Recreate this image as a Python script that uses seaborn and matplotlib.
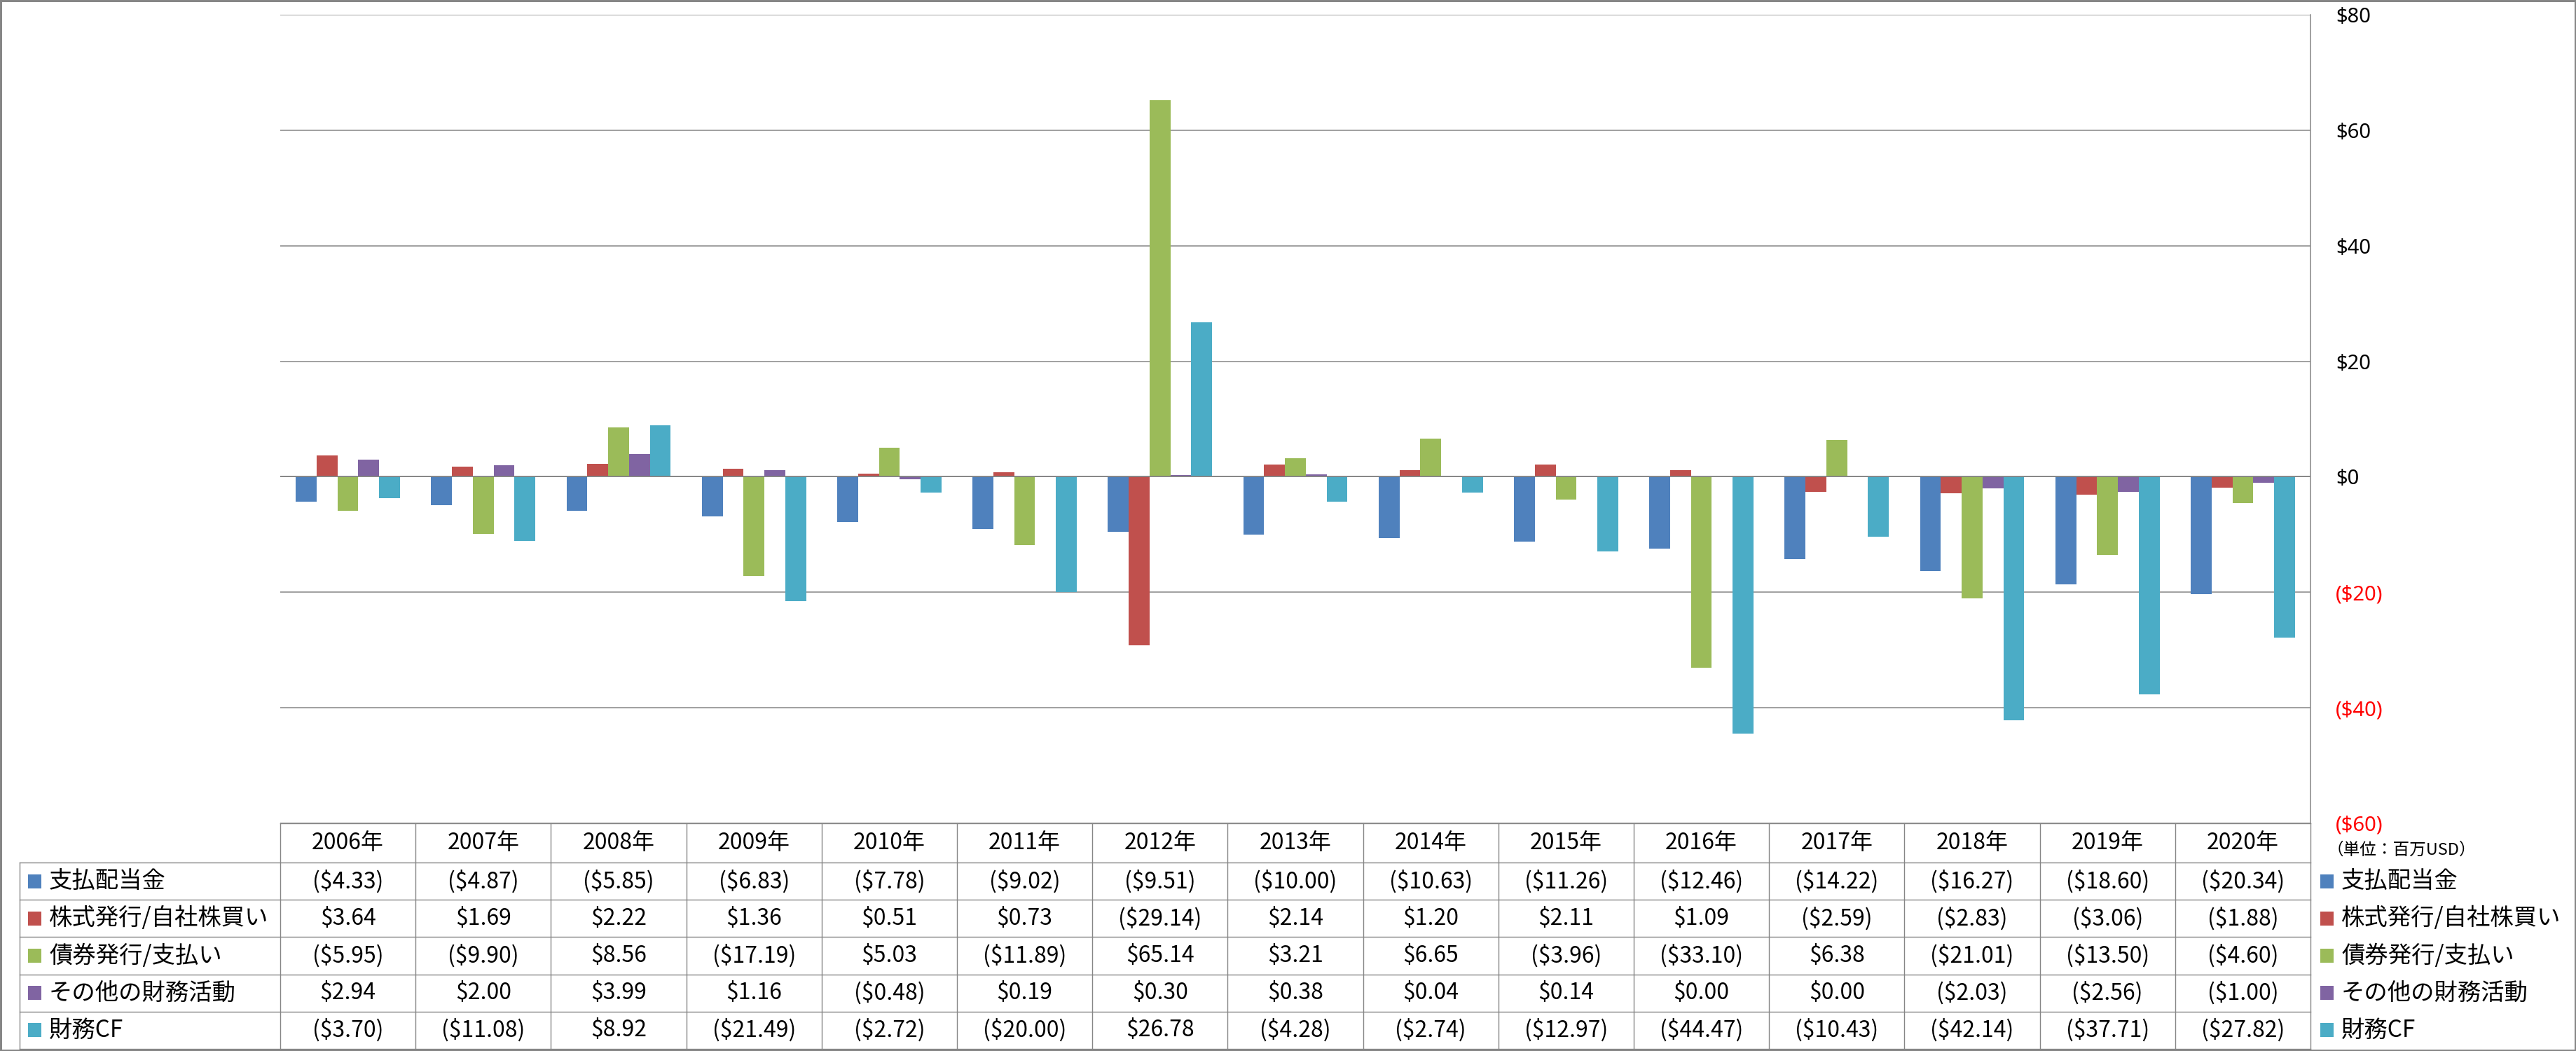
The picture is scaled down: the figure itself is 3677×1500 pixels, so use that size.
import matplotlib
matplotlib.use("Agg")
import matplotlib.pyplot as plt
from matplotlib.patches import Rectangle
import seaborn as sns
import pandas as pd
import numpy as np

# ---------------- data ----------------
years = ['2006年', '2007年', '2008年', '2009年', '2010年', '2011年', '2012年', '2013年',
         '2014年', '2015年', '2016年', '2017年', '2018年', '2019年', '2020年']
series = ['支払配当金', '株式発行/自社株買い', '債券発行/支払い', 'その他の財務活動', '財務CF']
dividends = [-4.33, -4.87, -5.85, -6.83, -7.78, -9.02, -9.51, -10.00, -10.63, -11.26, -12.46, -14.22, -16.27, -18.60, -20.34]
stock = [3.64, 1.69, 2.22, 1.36, 0.51, 0.73, -29.14, 2.14, 1.20, 2.11, 1.09, -2.59, -2.83, -3.06, -1.88]
bonds = [-5.95, -9.90, 8.56, -17.19, 5.03, -11.89, 65.14, 3.21, 6.65, -3.96, -33.10, 6.38, -21.01, -13.50, -4.60]
other = [2.94, 2.00, 3.99, 1.16, -0.48, 0.19, 0.30, 0.38, 0.04, 0.14, 0.00, 0.00, -2.03, -2.56, -1.00]
fcf = [-3.70, -11.08, 8.92, -21.49, -2.72, -20.00, 26.78, -4.28, -2.74, -12.97, -44.47, -10.43, -42.14, -37.71, -27.82]
yticks = [-60, -40, -20, 0, 20, 40, 60, 80]
unit_label = '（単位：百万USD）'
colors = ['#4F81BD', '#C0504D', '#9BBB59', '#8064A2', '#4BACC6']

values = [dividends, stock, bonds, other, fcf]
df = pd.DataFrame([
    {'year': y, 'series': s, 'value': v}
    for s, vals in zip(series, values)
    for y, v in zip(years, vals)
])

# ---------------- layout ----------------
W, H = 3677, 1500
DPI = 100
plt.rcParams['font.family'] = ['Noto Sans CJK JP', 'DejaVu Sans']
GRID = '#868686'

fig = plt.figure(figsize=(W / DPI, H / DPI), dpi=DPI)
fig.patch.set_facecolor('white')

x0, x1 = 400, 3298
ytop, ybot = 21, 1175
ax = fig.add_axes([x0 / W, (H - ybot) / H, (x1 - x0) / W, (ybot - ytop) / H])

sns.barplot(data=df, x='year', y='value', hue='series', order=years, hue_order=series,
            palette=colors, width=5 / 6.5, saturation=1, errorbar=None,
            linewidth=0, legend=False, ax=ax)

ax.set_xlim(-0.5, len(years) - 0.5)
ax.set_ylim(-60, 80)
ax.set_yticks(yticks)
ax.yaxis.tick_right()
ax.set_yticklabels([f"(${abs(t)})" if t < 0 else f"${t}" for t in yticks],
                   family=['Noto Sans', 'DejaVu Sans'], fontsize=21)
for lab, t in zip(ax.get_yticklabels(), yticks):
    lab.set_color('#FF0000' if t < 0 else 'black')
ax.tick_params(axis='y', length=0, pad=26)
ax.set_xticks([])
ax.set_xlabel('')
ax.set_ylabel('')
ax.yaxis.grid(True, color=GRID, linewidth=1.1)
ax.set_axisbelow(True)
ax.axhline(0, color=GRID, linewidth=1.3, zorder=3)
for sp in ['top', 'left', 'bottom']:
    ax.spines[sp].set_visible(False)
ax.spines['right'].set_color(GRID)
ax.spines['right'].set_linewidth(1.1)

# ---------------- overlay (table, legend, frame) ----------------
ov = fig.add_axes([0, 0, 1, 1])
ov.set_xlim(0, W)
ov.set_ylim(H, 0)
ov.axis('off')
ov.patch.set_alpha(0)

cw = (x1 - x0) / len(years)
hdr_top, row_top = 1175, 1231
rh = (1497 - row_top) / 5
tlw = 1.0
num_family = ['Liberation Sans Narrow', 'Noto Sans CJK JP', 'DejaVu Sans']

# header row
ov.plot([x0, x1], [hdr_top, hdr_top], color=GRID, lw=tlw)
for k in range(len(years) + 1):
    ov.plot([x0 + k * cw] * 2, [hdr_top, 1497], color=GRID, lw=tlw)
for i, y in enumerate(years):
    ov.text(x0 + (i + 0.5) * cw, (hdr_top + row_top) / 2, y, ha='center', va='center',
            fontsize=23, family=num_family)

# data rows
for r in range(6):
    yy = row_top + r * rh
    ov.plot([28, x1], [yy, yy], color=GRID, lw=tlw)
ov.plot([28, 28], [row_top, 1497], color=GRID, lw=tlw)


def fmt(v):
    s = f"${abs(v):.2f}"
    return f"({s})" if v < 0 else s


for r, (name, vals, col) in enumerate(zip(series, values, colors)):
    yc = row_top + (r + 0.5) * rh
    ov.add_patch(Rectangle((40, yc - 10), 19, 20, color=col, lw=0))
    ov.text(70, yc, name, ha='left', va='center', fontsize=24)
    for i, v in enumerate(vals):
        ov.text(x0 + (i + 0.5) * cw, yc, fmt(v), ha='center', va='center',
                fontsize=23, family=num_family)
    # right legend
    ov.add_patch(Rectangle((3312, yc - 10), 19, 20, color=col, lw=0))
    ov.text(3342, yc, name, ha='left', va='center', fontsize=24)

ov.text(3322, 1213, unit_label, ha='left', va='center', fontsize=17)

# outer frame
ov.add_patch(Rectangle((1, 1), W - 2.5, H - 2.5, fill=False, edgecolor=GRID, lw=2.2))

fig.savefig('out.png', dpi=DPI, facecolor='white')
